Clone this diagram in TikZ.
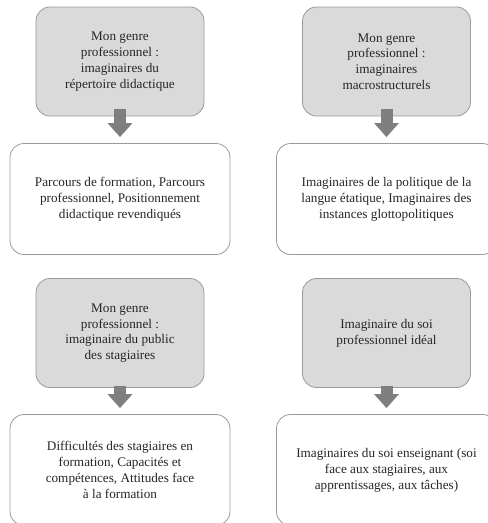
\documentclass[tikz,border=0pt]{standalone}
\usepackage{fontspec}
\setmainfont{Liberation Serif}
\usetikzlibrary{arrows.meta}
\definecolor{boxgray}{HTML}{DADADA}
\definecolor{edgegray}{HTML}{9A9A9A}
\definecolor{arrgray}{HTML}{7F7F7F}
\definecolor{txt}{HTML}{262626}
\tikzset{
  graybox/.style={draw=edgegray, line width=0.8pt, fill=boxgray, rounded corners=14pt,
    minimum width=168pt, minimum height=109pt, align=center, text=txt, font=\fontsize{13.2}{15.8}\selectfont, inner sep=0pt},
  whitebox/.style={draw=edgegray, line width=0.8pt, fill=white, rounded corners=14pt,
    minimum width=220pt, minimum height=111pt, align=center, text=txt, font=\fontsize{13.2}{16}\selectfont, inner sep=0pt},
  bigarrow/.style={draw=arrgray, line width=12pt, -{Triangle[width=24pt,length=14pt]}, shorten >=6pt}
}
\begin{document}
\begin{tikzpicture}[x=1pt,y=-1pt]
\useasboundingbox (0,0) rectangle (488,523);
\clip (0,0) rectangle (488,523);
% top row
\node[graybox] (g1) at (120,61.5) {Mon genre\\professionnel :\\imaginaires du\\répertoire didactique};
\node[whitebox] (w1) at (120,199) {Parcours de formation, Parcours\\professionnel, Positionnement\\didactique revendiqués};
\node[graybox] (g2) at (386.5,61.5) {Mon genre\\professionnel :\\imaginaires\\macrostructurels};
\node[whitebox] (w2) at (386.5,199) {Imaginaires de la politique de la\\langue étatique, Imaginaires des\\instances glottopolitiques};
% bottom row
\node[graybox] (g3) at (120,333) {Mon genre\\professionnel :\\imaginaire du public\\des stagiaires};
\node[whitebox] (w3) at (120,470) {Difficultés des stagiaires en\\formation, Capacités et\\compétences, Attitudes face\\à la formation};
\node[graybox] (g4) at (386.5,333) {Imaginaire du soi\\professionnel idéal};
\node[whitebox] (w4) at (386.5,470) {Imaginaires du soi enseignant (soi\\face aux stagiaires, aux\\apprentissages, aux tâches)};
% arrows
\draw[bigarrow] ([yshift=7pt]g1.south) -- (w1.north);
\draw[bigarrow] ([yshift=7pt]g2.south) -- (w2.north);
\draw[bigarrow] ([yshift=2pt]g3.south) -- (w3.north);
\draw[bigarrow] ([yshift=2pt]g4.south) -- (w4.north);
\end{tikzpicture}
\end{document}
